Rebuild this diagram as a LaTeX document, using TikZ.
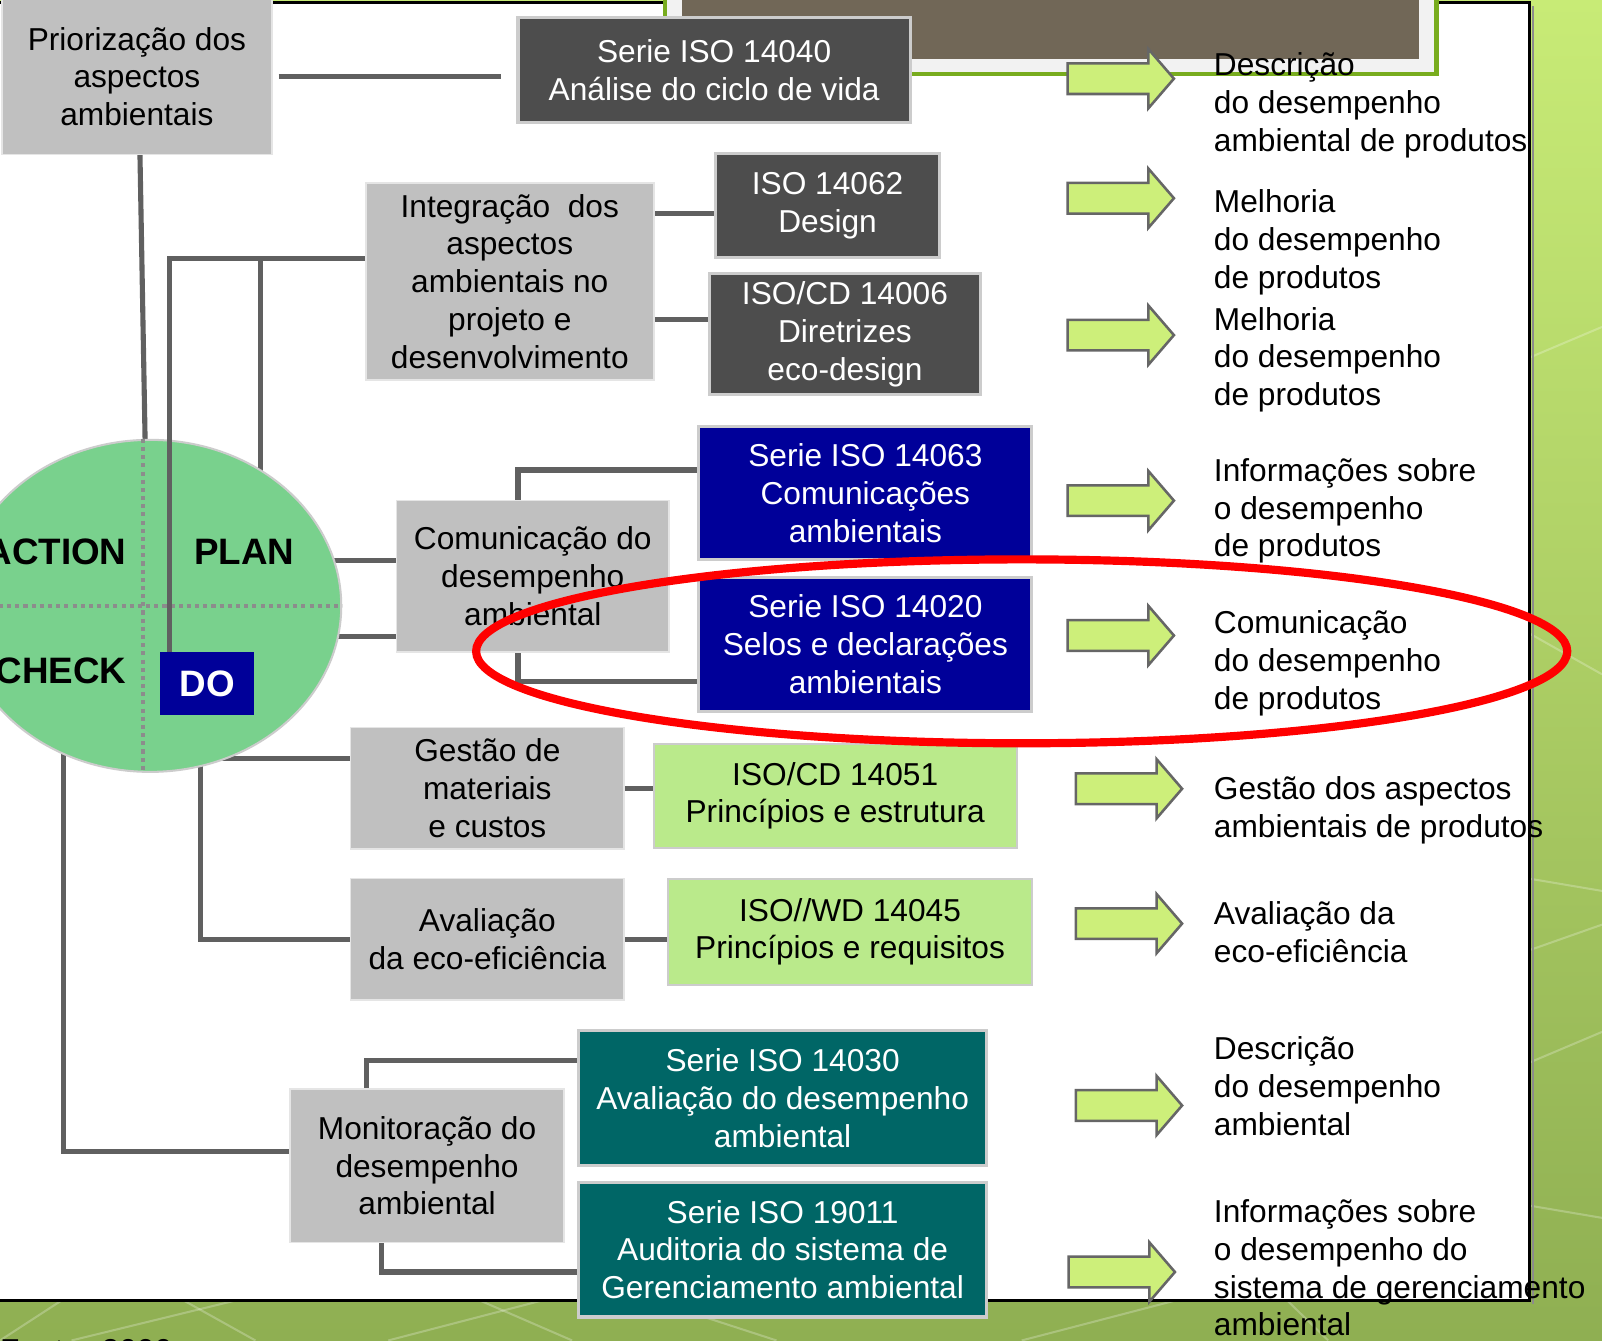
\documentclass[tikz,border=0pt]{standalone}
\usepackage{fontspec}
\setmainfont{Liberation Sans}
\usetikzlibrary{shapes.geometric}

\pgfdeclarelayer{back}
\pgfdeclarelayer{wires}
\pgfsetlayers{back,wires,main}

% Colours of the slide
\definecolor{stagegray}{HTML}{C0C0C0}
\definecolor{isodark}{HTML}{4D4D4D}
\definecolor{isonavy}{HTML}{000099}
\definecolor{isoteal}{HTML}{006666}
\definecolor{isolime}{HTML}{BAEA8B}
\definecolor{pdcagreen}{HTML}{79D18D}
\definecolor{linkgray}{HTML}{606060}
\definecolor{arrowlime}{HTML}{CDEF7A}
\definecolor{framegreen}{HTML}{78AC1E}
\definecolor{photobrown}{HTML}{716757}
\definecolor{slidetop}{HTML}{C8EB76}
\definecolor{slidebottom}{HTML}{8FAF52}

\tikzset{
    txt/.style={font=\fontsize{31}{37}\selectfont},
    boxsize/.style 2 args={minimum width=#1pt, minimum height=#2pt},
    stage/.style={txt, fill=stagegray, draw=black!10, line width=1.5pt, inner sep=0pt, align=center},
    norm/.style={txt, draw=black!20, line width=3pt, inner sep=0pt, align=center, text=white},
    normlight/.style={norm, fill=isolime, text=black, line width=2pt},
    result/.style={txt, anchor=west, align=left, inner sep=0pt},
    pdcalabel/.style={font=\fontsize{36}{40}\selectfont\bfseries, inner sep=0pt},
    link/.style={draw=linkgray, line width=5pt},
    quarter/.style={draw=black!45, line width=4pt, dash pattern=on 4pt off 4pt},
    flow/.style={fill=arrowlime, draw=black!60, line width=2.5pt, line join=miter}
}

\begin{document}
\begin{tikzpicture}[x=1pt, y=-1pt] % one unit = one pixel of the slide, y downwards

    % Page size
    \def\slideW{1568}
    \def\slideH{1312}
    \def\panelR{1497}   % right edge of the white panel
    \def\panelB{1273}   % bottom edge of the white panel
    \useasboundingbox (0,0) rectangle (\slideW,\slideH);
    \clip (0,0) rectangle (\slideW,\slideH);

    \begin{pgfonlayer}{back}
        % Green slide background with its light streaks
        \shade[top color=slidetop, bottom color=slidebottom] (0,0) rectangle (\slideW,\slideH);
        \foreach \ya/\yb in {350/320, 620/660, 860/872, 930/905, 1040/1010, 1180/1192} {
            \draw[white, opacity=0.25, line width=2pt] (\panelR,\ya) -- (\slideW,\yb);
        }
        \foreach \xa/\xb in {0/60, 70/230, 250/180, 380/530, 560/470, 760/640, 1000/1150, 1300/1260} {
            \draw[white, opacity=0.25, line width=2pt] (\xa,\slideH) -- (\xb,\panelB);
        }

        % White panel with black border
        \fill[white] (-20,2) rectangle (\panelR,\panelB);
        \draw[black!45, line width=2pt] (\panelR+3,6) -- (\panelR+3,\panelB+3);
        \draw[black, line width=3pt] (-20,2) -- (\panelR,2) -- (\panelR,\panelB) -- (-20,\panelB);

        % Picture frame at the top
        \fill[black!5] (651,-10) rectangle (1406,72);
        \draw[framegreen, line width=4pt] (651,-10) -- (651,72) -- (1406,72) -- (1406,-10);
        \fill[photobrown] (668,-10) rectangle (1389,58);
    \end{pgfonlayer}

    % PDCA circle
    \node[ellipse, fill=pdcagreen, draw=black!20, line width=2pt, minimum width=374pt, minimum height=325pt, inner sep=0pt] (pdca) at (147,593) {};
    \draw[quarter] ([xshift=-7pt]pdca.north) -- ([xshift=-7pt]pdca.south);
    \draw[quarter] (pdca.west) -- (pdca.east);

    % Stages (gray boxes)
    \node[stage, boxsize={264}{152}] (prio) at (134,75) {Priorização dos\\aspectos\\ambientais};
    \node[stage, boxsize={282}{193}] (integ) at (499,275.5) {Integração\ \ dos\\aspectos\\ambientais no\\projeto e\\desenvolvimento};
    \node[stage, boxsize={267}{148}] (comm) at (521.5,564) {Comunicação do\\desempenho\\ambiental};
    \node[stage, boxsize={268}{119}] (mat) at (477,771.5) {Gestão de\\materiais\\e custos};
    \node[stage, boxsize={268}{119}] (eco) at (477,919.5) {Avaliação\\da eco-eficiência};
    \node[stage, boxsize={268}{150}] (monit) at (418,1141) {Monitoração do\\desempenho\\ambiental};

    % Standards
    \node[norm, fill=isodark, boxsize={384}{103}] (lca) at (699,68.5) {Serie ISO 14040\\Análise do ciclo de vida};
    \node[norm, fill=isodark, boxsize={220}{102}] (design) at (810,201) {ISO 14062\\Design};
    \node[norm, fill=isodark, boxsize={266}{118}] (ecod) at (827,327) {ISO/CD 14006\\Diretrizes\\eco-design};
    \node[norm, fill=isonavy, boxsize={326}{131}] (comms) at (847,482.5) {Serie ISO 14063\\Comunicações\\ambientais};
    \node[norm, fill=isonavy, boxsize={326}{131}] (labels) at (847,630.5) {Serie ISO 14020\\Selos e declarações\\ambientais};
    \node[normlight, boxsize={355}{102}] (mfca) at (817.5,779) {ISO/CD 14051\\Princípios e estrutura};
    \node[normlight, boxsize={356}{104}] (ecoeff) at (832,912) {ISO//WD 14045\\Princípios e requisitos};
    \node[norm, fill=isoteal, boxsize={400}{132}] (epe) at (766,1075) {Serie ISO 14030\\Avaliação do desempenho\\ambiental};
    \node[norm, fill=isoteal, boxsize={400}{132}] (audit) at (766,1223) {Serie ISO 19011\\Auditoria do sistema de\\Gerenciamento ambiental};

    % PLAN line over the circle
    \coordinate (integKnee) at ([yshift=22.5pt]integ.west);
    \node[fill=isonavy, text=white, pdcalabel, minimum width=92pt, minimum height=62pt] (do) at (203,669) {DO};
    \draw[link] ([xshift=-37pt]do.north) |- (integKnee);

    % PDCA labels
    \node[pdcalabel, anchor=east] (act) at (124,540) {ACTION};
    \node[pdcalabel] (plan) at (239,540) {PLAN};
    \node[pdcalabel, anchor=east] (check) at (124,657) {CHECK};

    % Connectors behind the boxes and the circle
    \begin{pgfonlayer}{wires}
        \draw[link] ([xshift=3pt]prio.south) -- ([xshift=-5pt]pdca.north);
        \draw[link, shorten <=6pt, shorten >=15pt] (prio.east) -- (prio.east -| lca.west);
        \draw[link] ([xshift=52pt]do.north) -- ([xshift=52pt]do.north |- integKnee);
        \draw[link] ([yshift=-8pt]design.west) -- ([yshift=-8pt]design.west -| integ.east);
        \draw[link] ([yshift=14pt]ecod.west) -- ([yshift=14pt]ecod.west -| integ.east);
        \draw[link] ([yshift=15pt]comm.west) -- ++(-80,0);
        \draw[link] ([yshift=-59pt]comm.west) -- ++(-80,0);
        \draw[link] ([xshift=-14.5pt]comm.north) |- ([yshift=22.5pt]comms.west);
        \draw[link] ([xshift=-14.5pt]comm.south) |- ([yshift=-36.5pt]labels.west);
        \draw[link] ([yshift=29.5pt]mat.west) -- ++(-130,0);
        \draw[link] (mat.east) -- (mat.east -| mfca.west);
        \draw[link] ([xshift=49pt, yshift=20pt]pdca.south) |- (eco.west);
        \draw[link] (eco.east) -- (eco.east -| ecoeff.west);
        \draw[link] ([xshift=-85pt, yshift=30pt]pdca.south) |- ([yshift=14pt]monit.west);
        \draw[link] ([xshift=-59pt]monit.north) |- ([yshift=37pt]epe.west);
        \draw[link] ([xshift=-45pt]monit.south) |- ([yshift=-22pt]audit.west);
    \end{pgfonlayer}

    % Block arrows towards the results
    \foreach \ax/\ay in {1045/77, 1045/194, 1045/328, 1045/490, 1045/622, 1053/772, 1053/904, 1053/1082, 1046/1245} {
        \draw[flow] (\ax,\ay-15) -- ++(79,0) -- ++(0,-14) -- ++(25,29) -- ++(-25,29) -- ++(0,-14) -- ++(-79,0) -- cycle;
    }

    % Results
    \node[result] (res1) at (1188,103) {Descrição\\do desempenho\\ambiental de produtos};
    \node[result] (res2) at (1188,237) {Melhoria\\do desempenho\\de produtos};
    \node[result] (res3) at (1188,352) {Melhoria\\do desempenho\\de produtos};
    \node[result] (res4) at (1188,500) {Informações sobre\\o desempenho\\de produtos};
    \node[result] (res5) at (1188,649) {Comunicação\\do desempenho\\de produtos};
    \node[result] (res6) at (1188,793) {Gestão dos aspectos\\ambientais de produtos};
    \node[result] (res7) at (1188,912) {Avaliação da\\eco-eficiência};
    \node[result] (res8) at (1188,1063) {Descrição\\do desempenho\\ambiental};
    \node[result] (res9) at (1188,1241) {Informações sobre\\o desempenho do\\sistema de gerenciamento\\ambiental};

    % Source line, cut by the page edge
    \node[txt, anchor=base west, inner sep=0pt] (source) at (0,1333) {Fonte: 2000};

    % Red mark round ISO 14020
    \draw[red, line width=8pt] (1000,637.5) ellipse [x radius=534, y radius=90];

\end{tikzpicture}
\end{document}
